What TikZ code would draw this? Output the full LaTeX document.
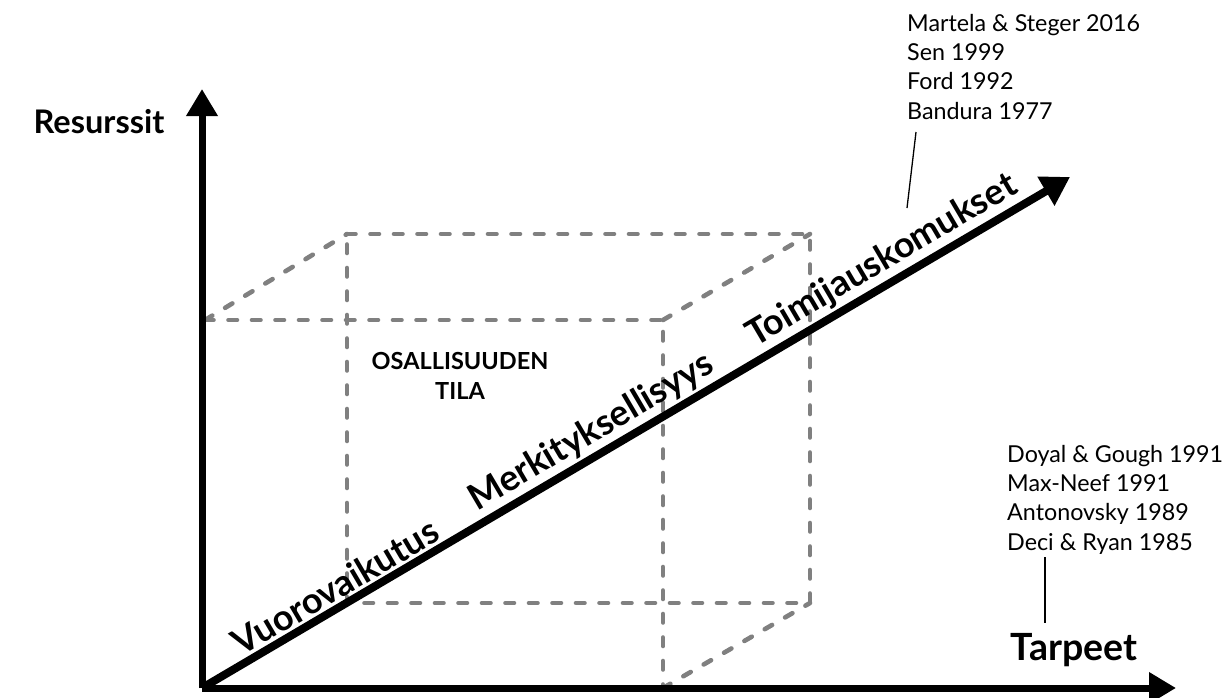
\documentclass[tikz,border=0pt]{standalone}
\usepackage{fontspec}
\setmainfont{Lato}
\usetikzlibrary{arrows.meta}
\definecolor{dashgray}{RGB}{128,128,128}
\tikzset{
  axisline/.style={line width=7pt,-{Triangle[width=30pt,length=27pt]}},
  diagline/.style={line width=8pt,-{Triangle[width=32pt,length=28pt]}},
  boxdash/.style={dashgray,line width=4.6pt,line cap=round,dash pattern=on 8.5pt off 15pt},
  leader/.style={line width=1.3pt},
  reftext/.style={font=\fontsize{23.3}{29.3}\selectfont,align=left,inner sep=0pt},
  axislabel/.style={font=\fontsize{#1}{40}\bfseries\selectfont,inner sep=0pt},
  diaglabel/.style={font=\fontsize{36}{40}\bfseries\selectfont,inner sep=2.5pt},
  spacelabel/.style={font=\fontsize{23.5}{30}\bfseries\selectfont,align=center,inner sep=0pt}
}
\begin{document}
\begin{tikzpicture}[x=1pt,y=-1pt]
\useasboundingbox (0,0) rectangle (1228,697);
% box corners
\coordinate (ftl) at (205,320);
\coordinate (ftr) at (663,320);
\coordinate (fbr) at (663,688);
\coordinate (btl) at (347,234);
\coordinate (btr) at (810,234);
\coordinate (bbr) at (810,603);
\coordinate (bbl) at (347,603);
% dashed box
\draw[boxdash] (ftl) -- (ftr) -- (fbr);
\draw[boxdash] (btl) -- (btr) -- (bbr) -- (bbl) -- cycle;
\draw[boxdash] (ftl) -- (btl);
\draw[boxdash] (ftr) -- (btr);
\draw[boxdash] (fbr) -- (bbr);
% axes
\coordinate (O) at (202,688);
\coordinate (Ytip) at (202,89);
\coordinate (Xtip) at (1176,688);
\coordinate (Dtip) at (1070,177);
\draw[axisline] (O) -- (Ytip);
\draw[axisline] (O) -- (Xtip);
\draw[diagline] (O) -- (Dtip)
  node[diaglabel,pos=0.165,sloped,above] (l1) {Vuorovaikutus}
  node[diaglabel,pos=0.462,sloped,above] (l2) {Merkityksellisyys}
  node[diaglabel,pos=0.797,sloped,above] (l3) {Toimijauskomukset};
% axis labels
\node[axislabel=32.5] (res) at (99,122) {Resurssit};
\node[axislabel=37.5] (tar) at (1074,650) {Tarpeet};
\node[spacelabel] (space) at (460,376) {OSALLISUUDEN\\TILA};
% references
\node[reftext,anchor=north west] (refA) at (907,14) {Martela \& Steger 2016\\Sen 1999\\Ford 1992\\Bandura 1977};
\node[reftext,anchor=north west] (refB) at (1007,445) {Doyal \& Gough 1991\\Max-Neef 1991\\Antonovsky 1989\\Deci \& Ryan 1985};
\coordinate (la1) at (916,132);
\coordinate (la2) at (907,208);
\coordinate (lb1) at (1045,557);
\coordinate (lb2) at (1045,623);
\draw[leader] (la1) -- (la2);
\draw[leader] (lb1) -- (lb2);
\end{tikzpicture}
\end{document}
